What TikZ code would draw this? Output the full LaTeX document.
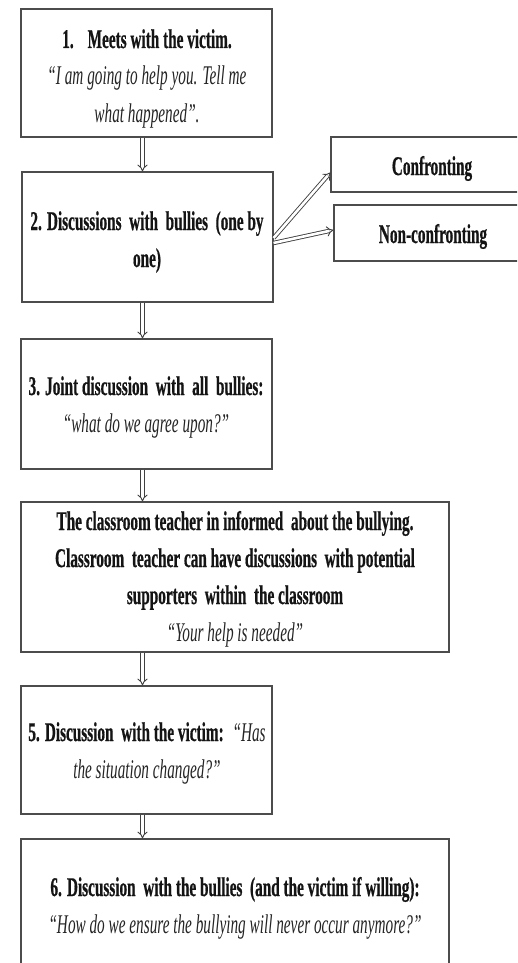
\documentclass[tikz,border=0pt]{standalone}
\usepackage{fontspec}
\setmainfont{Liberation Serif}[FakeStretch=0.565, BoldFeatures={FakeBold=0.6}]
\usetikzlibrary{arrows.meta,calc}
\newcommand{\speech}[1]{\textit{\color{black!86}#1}}
\begin{document}
\begin{tikzpicture}[x=1pt,y=-1pt,
  box/.style={draw=black!70, line width=1.1pt, rectangle, inner sep=0pt},
  txt/.style={anchor=base, align=center, inner sep=0pt, text=black!92,
    font=\fontsize{27}{37}\selectfont},
  flow/.style={draw=black!75, line width=0.9pt, double, double distance=2.6pt,
    -{Implies[length=6pt, width=11pt]}}]
\useasboundingbox (0,0) rectangle (517,963);
\clip (0,0) rectangle (517,963);

% step boxes
\node[box, minimum width=251pt, minimum height=128pt] (b1) at (146.5,73) {};
\node[box, minimum width=251pt, minimum height=130pt] (b2) at (147.5,237) {};
\node[box, minimum width=194pt, minimum height=55pt] (conf) at (428,164.5) {};
\node[box, minimum width=191pt, minimum height=56pt] (nonc) at (429.5,233) {};
\node[box, minimum width=251pt, minimum height=130pt] (b3) at (146.5,404) {};
\node[box, minimum width=428pt, minimum height=150pt] (b4) at (235,577) {};
\node[box, minimum width=251pt, minimum height=128pt] (b5) at (146.5,750) {};
\node[box, minimum width=428pt, minimum height=136pt] (b6) at (235,907) {};

% texts (each placed by the baseline of its last line)
\node[txt] (t1) at (147,122) {\textbf{1.\hspace{14pt}Meets with the victim.}\\
  \speech{“I am going to help you. Tell me}\\ \speech{what happened”.}};
\node[txt] (t2) at (147,267) {\textbf{2. Discussions \ with \ bullies \ (one by}\\ \textbf{one)}};
\node[txt] (tc) at (432,175) {\textbf{Confronting}};
\node[txt] (tn) at (433,243) {\textbf{Non-confronting}};
\node[txt] (t3) at (146,432) {\textbf{3. Joint discussion \ with \ all \ bullies:}\\
  \speech{“what do we agree upon?”}};
\node[txt] (t4) at (235,641) {\textbf{The classroom teacher in informed \ about the bullying.}\\
  \textbf{Classroom \ teacher can have discussions \ with potential}\\
  \textbf{supporters \ within \ the classroom}\\ \speech{“Your help is needed”}};
\node[txt] (t5) at (147,778) {\textbf{5. Discussion \ with the victim:} \ \speech{“Has}\\
  \speech{the situation changed?”}};
\node[txt] (t6) at (235,933) {\textbf{6. Discussion \ with the bullies \ (and the victim if willing):}\\
  \speech{“How do we ensure the bullying will never occur anymore?”}};

% connectors
\draw[flow] ([xshift=-4pt]b1.south) -- ([xshift=-4pt]b1.south |- b2.north);
\draw[flow] ([xshift=-5pt]b2.south) -- ([xshift=-5pt]b2.south |- b3.north);
\draw[flow] ([xshift=-4pt]b3.south) -- ([xshift=-4pt]b3.south |- b4.north);
\draw[flow] ([xshift=-4pt]b3.south |- b4.south) -- ([xshift=-4pt]b3.south |- b5.north);
\draw[flow] ([xshift=-4pt]b5.south) -- ([xshift=-4pt]b5.south |- b6.north);
\draw[flow] ([yshift=-1pt]b2.east) -- ([yshift=-8pt]conf.west);
\draw[flow] ([yshift=-6pt]b2.east) -- ([yshift=3pt]nonc.west);
\end{tikzpicture}
\end{document}
